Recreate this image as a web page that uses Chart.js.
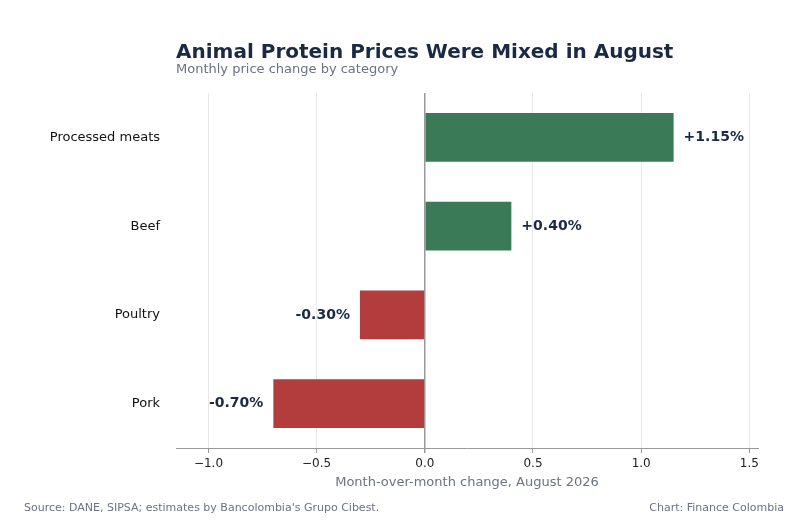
<!DOCTYPE html>
<html>
<head>
<meta charset="utf-8">
<script src="https://cdn.jsdelivr.net/npm/chart.js@4"></script>
<style>
  html, body { margin: 0; padding: 0; background: #fff; }
  #wrap { width: 800px; height: 521px; }
</style>
</head>
<body>
<div id="wrap"><canvas id="proteinChart" width="800" height="521"></canvas></div>
<script>
const categories = ["Processed meats", "Beef", "Poultry", "Pork"];
const changes = [1.15, 0.40, -0.30, -0.70];
const xTicks = [-1.0, -0.5, 0.0, 0.5, 1.0, 1.5];

const GREEN = "#3b7a57";
const RED = "#b33c3c";
const INK = "#1b2a44";
const GREY = "#6b7280";
const FONT = "'DejaVu Sans', sans-serif";

const textPlugin = {
  id: "textPlugin",
  afterDraw(chart) {
    const ctx = chart.ctx;
    const area = chart.chartArea;
    const xs = chart.scales.x;
    const ys = chart.scales.y;
    ctx.save();
    // title + subtitle
    ctx.textBaseline = "alphabetic";
    ctx.textAlign = "left";
    ctx.fillStyle = INK;
    ctx.font = "bold 20px " + FONT;
    ctx.fillText("Animal Protein Prices Were Mixed in August", area.left, 58);
    ctx.fillStyle = GREY;
    ctx.font = "13px " + FONT;
    ctx.fillText("Monthly price change by category", area.left, 73);

    // value labels
    ctx.font = "bold 14px " + FONT;
    ctx.fillStyle = INK;
    ctx.textBaseline = "middle";
    changes.forEach((v, i) => {
      const y = ys.getPixelForValue(i);
      const x = xs.getPixelForValue(v);
      const txt = (v > 0 ? "+" : "-") + Math.abs(v).toFixed(2) + "%";
      if (v >= 0) {
        ctx.textAlign = "left";
        ctx.fillText(txt, x + 10, y);
      } else {
        ctx.textAlign = "right";
        ctx.fillText(txt, x - 10, y);
      }
    });

    // x-axis title
    ctx.textAlign = "center";
    ctx.textBaseline = "alphabetic";
    ctx.fillStyle = GREY;
    ctx.font = "13px " + FONT;
    ctx.fillText("Month-over-month change, August 2026", (area.left + area.right) / 2, 486);

    // footer
    ctx.font = "11px " + FONT;
    ctx.textAlign = "left";
    ctx.fillText("Source: DANE, SIPSA; estimates by Bancolombia's Grupo Cibest.", 24, 511);
    ctx.textAlign = "right";
    ctx.fillText("Chart: Finance Colombia", 784, 511);
    ctx.restore();
  }
};

const ctx = document.getElementById("proteinChart").getContext("2d");
new Chart(ctx, {
  type: "bar",
  data: {
    labels: categories,
    datasets: [{
      data: changes,
      backgroundColor: changes.map(v => v >= 0 ? GREEN : RED),
      barPercentage: 0.55,
      categoryPercentage: 1.0,
    }],
  },
  options: {
    indexAxis: "y",
    responsive: false,
    animation: false,
    layout: { padding: { top: 93, right: 42, left: 0, bottom: 0 } },
    plugins: { legend: { display: false }, tooltip: { enabled: false } },
    scales: {
      x: {
        min: -1.15,
        max: 1.54,
        afterFit(scale) { scale.height = 73; },
        afterBuildTicks(scale) { scale.ticks = xTicks.map(v => ({ value: v })); },
        ticks: {
          color: "#222",
          font: { family: FONT, size: 12 },
          padding: 4,
          callback: v => (v < 0 ? "\u2212" : "") + Math.abs(v).toFixed(1),
        },
        grid: {
          color: ctx => ctx.tick && ctx.tick.value === 0 ? "#999" : "#e8e8e8",
          lineWidth: ctx => ctx.tick && ctx.tick.value === 0 ? 1.5 : 1,
          drawTicks: true,
          tickLength: 5,
          tickColor: "#999",
        },
        border: { color: "#999" },
      },
      y: {
        afterFit(scale) { scale.width = 176; },
        ticks: {
          color: "#111",
          font: { family: FONT, size: 13 },
          padding: 8,
        },
        grid: { display: false },
        border: { display: false },
      },
    },
  },
  plugins: [textPlugin],
});
</script>
</body>
</html>
